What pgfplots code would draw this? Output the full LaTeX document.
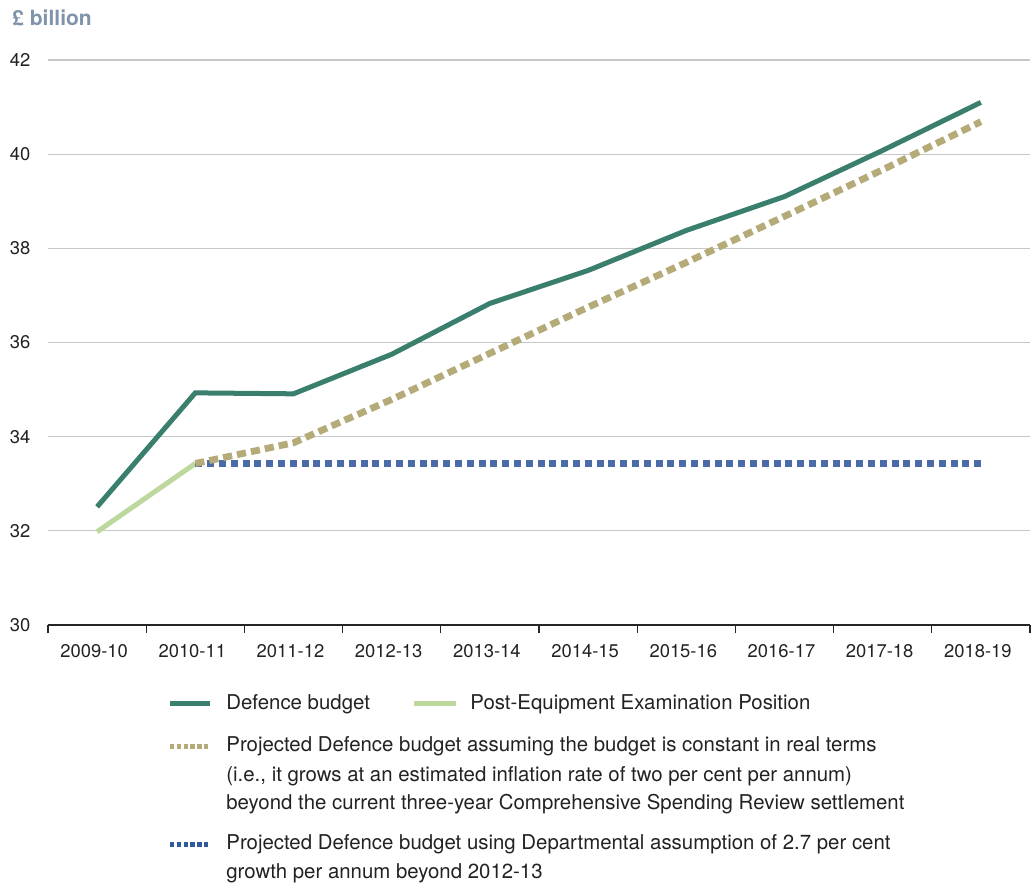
\documentclass[border=0pt]{standalone}
\usepackage{fontspec}
\setmainfont{TeX Gyre Heros}
\usepackage{pgfplots}
\pgfplotsset{compat=1.18}
\definecolor{defgreen}{HTML}{3A7F6E}
\definecolor{pegreen}{HTML}{BDD89D}
\definecolor{tan}{HTML}{B5AB78}
\definecolor{dblue}{HTML}{4A6BA8}
\definecolor{lblue}{HTML}{2F5A9C}
\definecolor{titlec}{HTML}{7F93AA}
\definecolor{txt}{HTML}{222222}
\begin{document}
\begin{tikzpicture}[x=1pt,y=1pt]
\useasboundingbox (-24,-129.5) rectangle (493,312.5);
\begin{axis}[
  scale only axis, width=491pt, height=282.5pt,
  at={(0,0)}, anchor=south west,
  xmin=-0.5, xmax=9.5, ymin=30, ymax=42,
  axis x line*=bottom, axis y line*=left,
  y axis line style={draw=none},
  x axis line style={draw=black!85, line width=0.6pt},
  xtick={0,...,9},
  xticklabels={2009-10,2010-11,2011-12,2012-13,2013-14,2014-15,2015-16,2016-17,2017-18,2018-19},
  minor xtick={-0.5,0.5,...,9.5},
  major x tick style={draw=none},
  minor x tick style={draw=black!85, line width=0.6pt},
  tick align=outside, minor tick length=4pt,
  ytick={30,32,...,42},
  ytick style={draw=none},
  ymajorgrids, grid style={draw=black!22, line width=0.6pt},
  /pgf/number format/assume math mode=true,
  tick label style={font=\fontsize{9.2}{10}\selectfont, text=txt},
  xticklabel style={yshift=-2pt, xshift=-1.5pt},
  yticklabel style={xshift=-1pt},
  clip=false,
]
\addplot[defgreen, line width=2.5pt] coordinates {
(0,32.51) (1,34.93) (2,34.91) (3,35.75) (4,36.83) (5,37.53) (6,38.38) (7,39.10) (8,40.08) (9,41.10)};
\addplot[pegreen, line width=2.5pt] coordinates {(0,31.98) (1,33.43)};
\addplot[dblue, line width=3.3pt, dash pattern=on 3.5pt off 2.4pt] coordinates {
(1,33.43) (2,33.43) (3,33.43) (4,33.43) (5,33.43) (6,33.43) (7,33.43) (8,33.43) (9,33.43)};
\addplot[tan, line width=3.4pt, dash pattern=on 4.6pt off 2.5pt] coordinates {
(1,33.43) (2,33.87) (3,34.79) (4,35.77) (5,36.75) (6,37.70) (7,38.68) (8,39.67) (9,40.69)};
\end{axis}
\node[anchor=west, font=\bfseries\fontsize{10.5}{12}\selectfont, text=titlec, inner sep=0] at (-18,303.5) {£ billion};
\begin{scope}[font=\fontsize{10.2}{12}\selectfont, every node/.style={anchor=west, inner sep=0, text=txt}]
\draw[defgreen, line width=2.5pt] (61,-39.5) -- (81,-39.5);
\node at (89,-39.5) {Defence budget};
\draw[pegreen, line width=2.5pt] (183,-39.5) -- (204,-39.5);
\node at (211,-39.5) {Post-Equipment Examination Position};
\draw[tan, line width=2.5pt, dash pattern=on 2.2pt off 1.2pt] (61,-60.5) -- (81,-60.5);
\node at (89,-60.5) {Projected Defence budget assuming the budget is constant in real terms};
\node at (89,-75.5) {(i.e., it grows at an estimated inflation rate of two per cent per annum)};
\node at (89,-89.5) {beyond the current three-year Comprehensive Spending Review settlement};
\draw[lblue, line width=2.5pt, dash pattern=on 2.2pt off 1.2pt] (61,-109.5) -- (81,-109.5);
\node at (89,-109.5) {Projected Defence budget using Departmental assumption of 2.7 per cent};
\node at (89,-124) {growth per annum beyond 2012-13};
\end{scope}
\end{tikzpicture}
\end{document}
